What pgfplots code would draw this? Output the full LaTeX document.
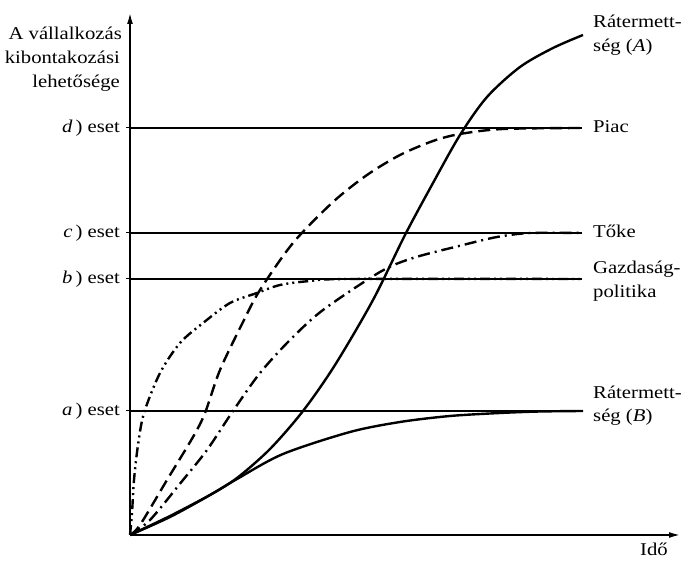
\documentclass[border=0pt]{standalone}
\usepackage{pgfplots}
\pgfplotsset{compat=1.18}
\usetikzlibrary{arrows.meta}
\usepackage{fontspec}
\setmainfont{Liberation Serif}[FakeStretch=1.15]
\tikzset{lbl/.style={font=\fontsize{18bp}{23bp}\selectfont, inner sep=0pt}}
\begin{document}
\begin{tikzpicture}
\begin{axis}[
  x=1bp, y=1bp,
  xmin=0, xmax=550, ymin=0, ymax=522,
  axis lines=left,
  axis line style={line width=1.6bp, -{Latex[length=11bp,width=6bp]}},
  clip=false,
  xtick=\empty,
  ytick={124,256,302,407},
  yticklabels={\textit{a}\,) eset,\textit{b}\,) eset,\textit{c}\,) eset,\textit{d}\,) eset},
  yticklabel style={font=\fontsize{18bp}{23bp}\selectfont, anchor=east, inner sep=0pt, xshift=-6bp},
  tick align=center,
  major tick length=8bp,
  ytick style={line width=1bp, black},
]
% bounding box
\path (axis cs:-130,-26) rectangle (axis cs:557,535);
% reference levels
\addplot[line width=1.1bp] coordinates {(0,124) (452,124)};
\addplot[line width=1.1bp] coordinates {(0,256) (452,256)};
\addplot[line width=1.1bp] coordinates {(0,302) (452,302)};
\addplot[line width=1.1bp] coordinates {(0,407) (452,407)};
% Ratermettseg (A)
\addplot[line width=2.4bp, smooth] coordinates {
(0,0) (40,18) (80,40) (107,57) (140,86) (173,124) (205,170) (243,235) (275,300)
(303,352) (330,400) (357,438) (390,468) (423,487) (453,500)};
% Ratermettseg (B)
\addplot[line width=2.4bp, smooth] coordinates {
(0,0) (40,19) (80,40) (107,56) (153,81) (220,103) (270,113) (320,119) (370,122) (410,123.5) (453,124)};
% Piac
\addplot[line width=2.4bp, smooth, dash pattern=on 12bp off 6bp] coordinates {
(0,0) (10,10) (37,55) (63,98) (75,122) (90,165) (113,213) (130,245)
(163,292) (203,333) (237,360) (270,380) (303,394) (330,401) (373,406) (453,407)};
% Toke
\addplot[line width=2.4bp, smooth, dash pattern=on 12bp off 5bp on 2bp off 5bp] coordinates {
(0,0) (20,15) (53,55) (77,85) (103,124) (130,162) (160,195) (193,225) (250,263)
(283,277) (333,290) (367,298) (400,302) (453,302)};
% Gazdasagpolitika
\addplot[line width=2.4bp, smooth, dash pattern=on 10bp off 4bp on 2bp off 4bp on 2bp off 4bp] coordinates {
(0,0) (2,22) (4,55) (8,90) (14,122) (30,162) (50,192) (73,212) (100,232) (127,242)
(150,250) (180,254) (220,256) (453,256)};
% y-axis title
\node[lbl, anchor=base east] at (axis cs:-8,495) {A vállalkozás};
\node[lbl, anchor=base east] at (axis cs:-10,471) {kibontakozási};
\node[lbl, anchor=base east] at (axis cs:-10,447) {lehetősége};
% curve labels
\node[lbl, anchor=base west] at (axis cs:463,507) {Rátermett-};
\node[lbl, anchor=base west] at (axis cs:463,483) {ség (\textit{A})};
\node[lbl, anchor=base west] at (axis cs:463,402) {Piac};
\node[lbl, anchor=base west] at (axis cs:463,297) {Tőke};
\node[lbl, anchor=base west] at (axis cs:463,261) {Gazdaság-};
\node[lbl, anchor=base west] at (axis cs:463,237) {politika};
\node[lbl, anchor=base west] at (axis cs:463,136) {Rátermett-};
\node[lbl, anchor=base west] at (axis cs:463,113) {ség (\textit{B})};
\node[lbl, anchor=base east] at (axis cs:538,-21) {Idő};
\end{axis}
\end{tikzpicture}
\end{document}
